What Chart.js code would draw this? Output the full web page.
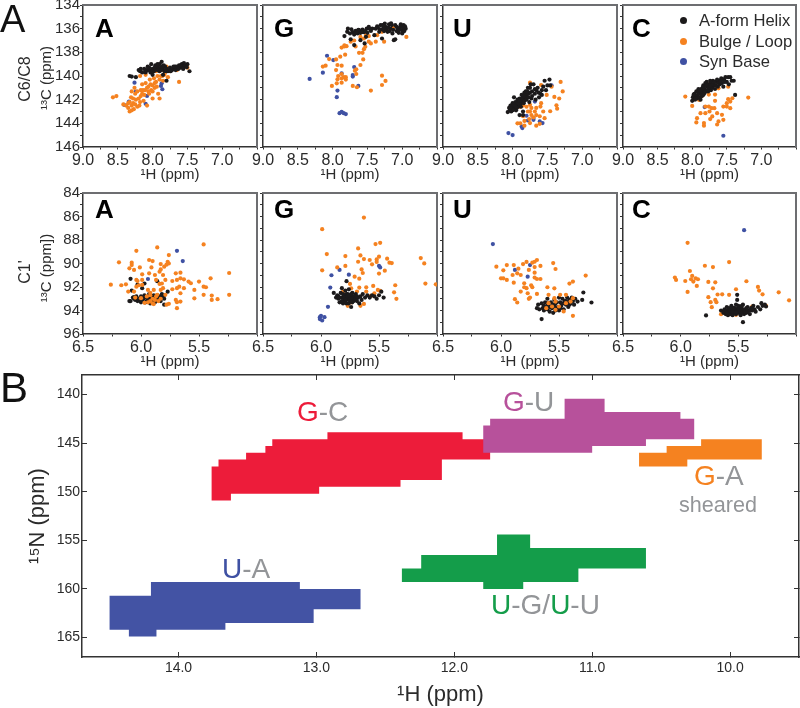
<!DOCTYPE html>
<html>
<head>
<meta charset="utf-8">
<title>RNA chemical shift maps</title>
<script src="https://cdn.jsdelivr.net/npm/chart.js@4"></script>
<style>
html, body { margin: 0; padding: 0; background: #fff; }
#page { position: relative; width: 800px; height: 708px; overflow: hidden; font-family: "Liberation Sans", Arial, sans-serif; }
#page canvas { position: absolute; }
.lbl { position: absolute; line-height: 1; white-space: nowrap; }
.dot { position: absolute; width: 7px; height: 7px; border-radius: 50%; }
</style>
</head>
<body>
<div id="page"></div>
<script>
// C6/C8 panels, [1H, 13C] pairs
const baseA_helix = [[8.33,140],[8.3,140.05],[8.24,140.1],[8.2,139.5],[8.18,139.6],[8.15,139.7],[8.12,139.4],[8.1,139.7],[8.08,139.5],[8.05,139.5],[8.03,139.7],[8.02,139],[8,139.4],[7.98,139.6],[7.96,139.1],[7.95,139.4],[7.92,139.3],[7.9,139.6],[7.9,139],[7.87,138.8],[7.85,139.4],[7.83,139.6],[7.82,139.2],[7.8,139.4],[7.78,139.6],[7.75,139.3],[7.72,139.5],[7.7,139.4],[7.68,139.2],[7.65,139.4],[7.62,139.1],[7.6,139.3],[7.58,139],[7.55,139.2],[7.55,138.9],[7.5,139],[7.47,139.6],[7.8,140.4],[7.85,139.9],[8,139.9],[7.93,139.5],[7.88,139.3],[7.76,139.5],[7.66,139.2],[8.17,139.4],[8.1,139.5],[8.05,139.3],[8,139.6],[7.97,139.3],[7.92,139.5],[7.88,139.5],[7.86,139.2],[7.84,139.1],[7.8,139.6],[7.74,139.6],[7.7,139.2],[7.67,139.5],[7.63,139.4],[7.6,139.1],[7.56,139.4],[7.53,139.1],[7.51,139.25],[8.07,139.2],[7.93,139]];
const baseA_loop = [[8.57,141.8],[8.52,141.7],[8.42,142.4],[8.38,142.5],[8.35,142.7],[8.33,143],[8.33,142.2],[8.31,141.8],[8.3,142.5],[8.28,141.9],[8.28,142.3],[8.27,142.8],[8.25,141.5],[8.24,142],[8.22,141.3],[8.22,142.6],[8.2,141.9],[8.19,142.5],[8.17,141.2],[8.17,141.7],[8.15,140.7],[8.14,141.2],[8.13,142.1],[8.12,141.6],[8.1,140.6],[8.08,142.5],[8.08,141],[8.06,140.9],[8.05,141.5],[8.04,140.3],[8.02,141.2],[8,140.8],[8,141.9],[7.98,140.2],[7.97,141],[7.95,140.5],[7.93,140],[7.92,141.5],[7.9,141.9],[7.88,140],[7.87,139.5],[7.85,140.4],[7.82,139.7],[7.8,139.2],[7.75,139.6],[7.78,140.1],[8.18,140],[8.1,139.9],[7.95,139.6],[7.65,139.5],[7.62,140.5],[7.5,139.3],[7.58,139.2],[8.26,141],[8.3,141.3],[8.35,142.3],[8.3,142.9],[8.25,142.4],[8.18,142.2],[8.15,141.5],[8.11,141.2],[8.06,141.3],[8.03,140.7],[8,141.3],[7.97,140.6],[7.94,140.9],[7.9,140.3],[7.86,140],[7.83,139.9]];
const baseA_syn = [[8.26,140.56],[8.41,142.44],[8.34,142.16],[8.08,141.68],[8.1,142.35],[7.87,140.62],[7.88,140.84],[7.86,141.12],[8.24,141.32]];

const baseG_helix = [[7.83,136.63],[7.79,136.27],[7.75,136.4],[7.71,136.3],[7.69,136.5],[7.67,136.19],[7.64,136.4],[7.62,136.13],[7.6,136.35],[7.57,136.07],[7.55,136.3],[7.51,136],[7.48,135.85],[7.45,136.19],[7.69,137.39],[7.54,137.25],[7.6,136.97],[7.35,135.9],[7.33,136.27],[7.31,135.7],[7.29,136.07],[7.25,135.57],[7.24,135.85],[7.21,136.27],[7.19,135.63],[7.17,136],[7.14,136.4],[7.12,136.97],[7.1,136.9],[7.1,135.7],[7.06,136],[7.02,135.63],[7,136.13],[6.98,135.7],[6.95,136],[7,136.4],[7.05,136.35],[7.29,136.83],[7.4,136.55],[7.43,135.99],[7.52,136.69],[7.74,136.9],[7.78,136],[7.73,136.05],[7.66,136.35],[7.63,136.1],[7.58,136.3],[7.53,136.2],[7.5,136.35],[7.47,136],[7.38,136],[7.36,135.8],[7.32,136.05],[7.28,135.7],[7.26,136.2],[7.23,136.05],[7.2,135.9],[7.18,136.2],[7.15,135.7],[7.13,136.1],[7.08,136.2],[7.08,135.85],[7.04,136.1],[7.03,135.85],[6.99,135.9],[6.97,136.2],[6.96,135.8],[7.16,135.55],[7.27,135.95]];
const baseG_loop = [[8.14,139.2],[8.1,139.13],[8.05,138.57],[7.95,138.6],[7.89,138.37],[7.82,138.2],[7.93,139.07],[7.87,139.13],[7.95,139.5],[7.87,139.83],[7.92,140],[7.93,140.28],[7.87,140.2],[7.84,140.1],[7.81,140.1],[7.81,140.3],[7.87,140.56],[7.94,140.62],[8.01,140.84],[7.71,140.84],[7.65,140.95],[7.45,141.23],[7.29,139.97],[7.24,140.42],[7.29,140.76],[7.68,139.55],[7.66,139.83],[7.66,139.44],[7.6,139.07],[7.56,138.6],[7.62,138.04],[7.57,138.04],[7.55,137.73],[7.53,137.53],[7.87,137.6],[7.83,137.5],[7.8,137.48],[7.83,137.4],[7.74,137.1],[7.69,137],[7.67,137.5],[7.6,136.7],[7.55,136.83],[7.48,137.1],[7.45,137.25],[7.48,136.63],[7.52,136.55],[7.38,137.1],[7.36,136.55],[7.26,137.1],[7.29,136.27],[7.21,136.13],[7.12,135.85],[6.94,136.7]];
const baseG_syn = [[8.08,138.29],[7.99,138.65],[8.14,139.72],[8.33,140.25],[7.69,139.24],[7.71,139.92],[7.71,140.05],[7.63,140.84],[7.87,139.78],[7.93,141.23],[7.94,141.79],[7.9,143.14],[7.87,143.03],[7.84,143.14],[7.81,143.22]];

const baseU_helix = [[8.07,143.05],[8.05,142.7],[8.04,142.9],[8.03,142.5],[8.02,143],[8.01,142.7],[8,142.3],[8,142.9],[7.99,142.5],[7.98,141.8],[7.97,142.7],[7.96,142.2],[7.95,142.9],[7.94,142.4],[7.93,142],[7.92,142.6],[7.91,142.2],[7.9,141.9],[7.9,142.5],[7.89,142],[7.88,142.3],[7.87,141.6],[7.86,142.1],[7.85,141.8],[7.85,143],[7.84,142.3],[7.83,141.4],[7.82,141.9],[7.81,141.3],[7.8,141.7],[7.78,141],[7.77,141.5],[7.76,142.2],[7.75,141.4],[7.74,140.7],[7.72,141.3],[7.7,140.7],[7.68,141.5],[7.66,141.2],[7.64,141],[7.62,141.8],[7.6,141.5],[7.58,141.2],[7.56,140.9],[7.54,140.4],[7.52,141.2],[7.5,140.8],[7.47,140.3],[7.46,140.8],[7.67,142],[7.73,141.9],[7.9,143.3],[7.85,143.3],[8.03,142.75],[7.98,142.4],[7.96,142.55],[7.92,142.3],[7.9,142.1],[7.88,142.6],[7.86,141.9],[7.83,142.1],[7.82,141.5],[7.8,142],[7.79,141.3],[7.77,141.8],[7.75,141],[7.72,141.7],[7.68,141.1],[7.63,141.4],[7.58,141.6],[7.94,142.7],[7.99,142.85],[7.84,141.7]];
const baseU_loop = [[7.31,140.5],[7.28,141.3],[7.4,141.77],[7.33,141.9],[7.37,142.48],[7.36,142.76],[7.46,142.98],[7.75,140.56],[7.59,140.76],[7.44,140.9],[7.51,141.6],[7.59,142.3],[7.56,143],[7.6,142.58],[7.75,142.44],[7.8,142.6],[7.85,142.5],[7.73,142.7],[7.75,143],[7.68,143],[7.66,143.3],[7.73,143.3],[7.78,143],[7.85,143.4],[7.83,143.8],[7.93,144],[7.89,144],[7.83,144.2],[7.75,143.98],[7.66,144.2],[7.61,143.4],[7.61,144.04],[7.54,143.56],[7.66,142.7],[7.89,142.6],[7.7,143.5],[7.76,143.64]];
const baseU_syn = [[8.06,144.82],[8,144.99],[7.87,144.26],[7.86,144.4],[7.8,143.36],[7.78,143.76],[7.7,143.7],[7.7,143.55],[7.61,143.84],[7.57,143.98],[7.44,140.78],[7.68,142.16]];

const baseC_helix = [[8,142.1],[7.99,141.8],[7.97,141.5],[7.96,142],[7.95,141.7],[7.94,141.3],[7.93,141.9],[7.92,141.6],[7.91,141.1],[7.9,141.8],[7.89,141.4],[7.88,142],[7.87,141.1],[7.86,141.7],[7.85,141.3],[7.84,140.8],[7.83,141.5],[7.82,141.1],[7.81,140.6],[7.8,141.3],[7.79,140.5],[7.78,140.9],[7.77,141.3],[7.76,140.7],[7.75,141],[7.74,140.4],[7.73,141.2],[7.72,140.7],[7.71,141],[7.7,140.4],[7.68,140.8],[7.67,141.1],[7.65,140.5],[7.63,140.9],[7.61,140.4],[7.6,140.7],[7.58,140.2],[7.57,140.6],[7.55,140.9],[7.54,140.3],[7.52,140.1],[7.5,140.5],[7.48,140.1],[7.47,140.7],[7.45,140.1],[7.43,140.4],[7.4,140.4],[7.38,141.6],[7.98,141.6],[7.95,141.9],[7.92,141.3],[7.9,141.5],[7.88,141.2],[7.86,141.5],[7.85,141],[7.83,140.9],[7.82,141.4],[7.8,140.8],[7.78,141.2],[7.76,141],[7.74,140.8],[7.73,140.5],[7.7,140.7],[7.68,140.5],[7.66,140.8],[7.64,140.3],[7.62,140.6],[7.59,140.5],[7.56,140.3],[7.53,140.5],[7.9,141.2],[7.84,141.6]];
const baseC_loop = [[8.1,141.74],[7.19,141.82],[8,142.53],[7.76,142.58],[7.72,142.72],[7.68,142.72],[7.75,143],[7.81,143.14],[7.88,143.14],[7.93,143.56],[7.94,143.92],[7.83,143.98],[7.83,144.2],[7.74,143.64],[7.71,143.42],[7.64,143.14],[7.57,143.28],[7.55,143.7],[7.62,143.84],[7.64,144.1],[7.55,142.58],[7.5,142.58],[7.45,142.72],[7.5,142.3],[7.48,141.96],[7.42,141.88],[7.45,142.16],[7.79,140.62],[7.62,141.04],[7.48,140.9],[7.67,141.57],[7.81,142.58],[7.9,142.02],[7.76,141.57],[7.86,141.7],[7.67,142.1]];
const baseC_syn = [[7.55,145.05],[7.82,142.63]];

// C1' panels
const riboA_helix = [[6.09,93.2],[6.07,92.9],[6.05,93.1],[6.04,92.8],[6.03,93.2],[6.02,93],[6,92.8],[6,93.3],[5.98,93],[5.97,92.7],[5.96,93.3],[5.95,92.9],[5.94,93.1],[5.93,92.6],[5.92,93.4],[5.91,92.9],[5.9,93.2],[5.89,92.7],[5.88,93.3],[5.87,93],[5.86,92.7],[5.85,93.1],[5.84,92.8],[5.83,93.2],[5.82,92.6],[5.81,92.9],[5.8,93],[5.8,92.7],[6.09,91.3],[6.03,91.8],[5.99,92.1],[5.97,91.7],[5.86,91.5],[6.08,92.3],[5.77,92.4],[5.8,93.5],[6.1,93.2],[6,93.1],[5.93,93.2],[6.06,93],[6.03,93],[6.01,93.1],[5.99,93.15],[5.97,92.9],[5.95,93.2],[5.93,93],[5.91,93.1],[5.89,93],[5.87,93.2],[5.85,92.9],[5.83,92.85],[6.06,92.85],[5.99,92.9]];
const riboA_loop = [[5.46,88.38],[5.86,88.63],[6.04,88.92],[5.76,89.28],[6.19,89.9],[6.08,89.93],[6.08,90.13],[6.1,90.41],[6.06,90.55],[6.01,90.33],[5.93,89.7],[5.9,89.79],[5.91,90.33],[5.93,90.84],[5.99,90.92],[5.83,90.05],[5.8,90.27],[5.77,89.85],[5.76,90],[5.78,90.1],[5.83,90.5],[5.84,90.7],[5.88,90.98],[5.81,90.98],[5.7,90.84],[5.66,90.78],[5.4,91.26],[5.24,90.81],[5.24,92.67],[5.34,93.04],[5.39,93.1],[5.39,92.73],[5.46,92.67],[5.44,92.02],[5.46,91.97],[5.5,91.54],[5.57,91.68],[5.59,91.54],[5.63,91.35],[5.66,91.26],[5.69,91.4],[5.73,91.49],[5.79,91.4],[5.87,91.4],[5.84,91.74],[5.82,91.7],[5.67,91.97],[5.63,92.1],[5.69,92.1],[5.73,92.19],[5.54,92.25],[5.66,92.53],[5.54,92.96],[5.7,93.1],[5.66,93.24],[5.69,93.29],[5.69,93.8],[5.76,93.43],[5.78,93.5],[6.26,91.8],[6.17,91.85],[6.13,91.77],[6.11,92.39],[6.04,91.97],[6.03,91.49],[5.99,91.4],[6.04,91.4],[6.02,91.85],[5.99,91.82],[6.06,92.39],[5.94,92.25],[5.89,92.25],[5.92,92.5],[5.83,92.25],[5.81,92.1],[5.79,92.67],[5.86,92.67],[5.95,92.8],[5.9,93],[5.92,93.2],[5.88,93.1],[5.87,92.8],[5.94,93.3],[5.9,93.4],[5.85,93.2],[5.83,93],[5.92,92.7],[6,92.95],[6.05,92.9],[5.97,93.35],[5.89,93.45]];
const riboA_syn = [[5.69,88.92],[5.64,89.79],[5.94,91.32]];

const riboG_helix = [[5.89,92.5],[5.87,92.9],[5.86,92.7],[5.85,93],[5.84,93.3],[5.83,92.5],[5.82,92.9],[5.82,92.1],[5.81,93.4],[5.8,92.7],[5.8,93.1],[5.79,92.3],[5.78,92.9],[5.78,93.4],[5.77,92.6],[5.77,93],[5.76,92.2],[5.76,93.4],[5.75,92.7],[5.75,93.1],[5.74,92.9],[5.74,93.7],[5.73,92.5],[5.73,93.3],[5.72,92.8],[5.71,93.1],[5.7,92.6],[5.69,93.2],[5.68,92.9],[5.67,93.4],[5.66,92.8],[5.65,93.1],[5.64,92.6],[5.62,92.9],[5.6,92.7],[5.58,92.9],[5.56,92.7],[5.54,92.8],[5.52,93],[5.5,92.7],[5.48,92.4],[5.46,92.9],[5.78,91.5],[5.85,92.8],[5.82,93.2],[5.8,92.9],[5.79,93.3],[5.78,92.6],[5.77,92.8],[5.76,93.1],[5.75,92.9],[5.74,92.6],[5.73,93],[5.72,93.2],[5.71,92.8],[5.7,93],[5.69,92.8],[5.81,92.6],[5.84,92.9],[5.79,93.1],[5.76,92.7],[5.74,93.2]];
const riboG_loop = [[5.63,86.09],[5.99,87.08],[5.95,89.2],[5.99,90.58],[5.86,90.33],[5.79,90.21],[5.79,89.37],[5.68,88.72],[5.66,89.31],[5.63,89.62],[5.68,89.85],[5.58,89.7],[5.56,90.07],[5.53,88.35],[5.49,88.24],[5.5,89.42],[5.52,89.65],[5.52,89.87],[5.43,89.59],[5.41,89.93],[5.39,89.96],[5.45,90.61],[5.5,90.86],[5.65,90.5],[5.64,90.81],[5.71,91.12],[5.67,91.29],[5.75,91.74],[5.74,92.11],[5.14,89.54],[5.11,89.99],[5.1,91.71],[5.01,91.77],[5.36,91.85],[5.37,92.45],[5.35,93.01],[5.61,92.02],[5.55,91.91],[5.51,92.25],[5.49,92.33],[5.54,92.53],[5.61,92.39],[5.67,92.05],[5.69,92.39],[5.57,92.76],[5.63,93.44],[5.66,93.6],[5.78,92.95],[5.74,93.32],[5.77,93.6],[5.81,92.39]];
const riboG_syn = [[6.01,94.57],[6,94.45],[5.99,94.85],[5.97,94.57],[6.01,94.73],[5.94,93.69],[5.92,92.05],[5.91,91],[5.84,90.55],[5.76,90.95],[5.5,90.21],[5.49,90.33],[5.69,92.93]];

const riboU_helix = [[5.65,94.73],[5.29,92.47],[5.22,93.32],[5.3,93.1],[5.34,93.24],[5.69,93.8],[5.68,93.5],[5.67,93.9],[5.65,93.4],[5.64,93.8],[5.63,94],[5.62,93.3],[5.61,93.7],[5.6,93],[5.6,93.9],[5.59,93.5],[5.58,94.1],[5.57,93.3],[5.56,93.8],[5.55,94.2],[5.54,93.1],[5.54,93.6],[5.53,94],[5.52,93.3],[5.51,93.7],[5.5,92.9],[5.5,94],[5.49,93.3],[5.48,93.6],[5.47,93],[5.46,93.9],[5.45,93.2],[5.44,93.5],[5.43,92.9],[5.42,93.7],[5.41,93.1],[5.4,93.4],[5.39,92.9],[5.38,93.2],[5.37,93.5],[5.36,93],[5.63,93.6],[5.6,93.4],[5.57,93.7],[5.55,93.5],[5.52,93.8],[5.49,93.8],[5.47,93.4],[5.44,93.2],[5.42,93.3],[5.53,93.4],[5.58,93.7],[5.41,93.5]];
const riboU_loop = [[6.04,90.27],[5.98,90.58],[5.95,90.13],[5.89,90.13],[5.85,90.44],[5.81,90.05],[5.78,89.87],[5.73,89.93],[5.71,89.85],[5.69,89.7],[5.66,90.21],[5.71,90.3],[5.55,89.96],[5.53,90.47],[5.27,91.03],[5.38,91.54],[5.41,91.71],[5.54,92.11],[5.6,92.02],[6,91.26],[5.98,91.26],[5.95,91.4],[5.9,90.98],[5.86,90.84],[5.89,91.63],[5.83,90.98],[5.76,90.55],[5.71,90.78],[5.71,91.2],[5.69,91.32],[5.66,91.32],[5.8,91.68],[5.74,91.85],[5.73,92.02],[5.8,92.02],[5.78,92.1],[5.83,92.39],[5.69,92.59],[5.77,92.53],[5.76,93.01],[5.75,92.9],[5.88,93.04],[5.86,93.32],[5.59,92.67],[5.54,92.95],[5.49,92.67],[5.44,92.67],[5.38,92.95],[5.38,94.45],[5.56,93.66],[5.53,93.94],[5.5,93.66],[5.46,94.08],[5.59,93.38],[5.53,93.24],[5.61,93.8],[5.44,93.38],[5.4,93.24]];
const riboU_syn = [[6.07,88.35],[5.88,90.55],[5.75,90.13],[5.77,91.12]];

const riboC_helix = [[5.78,94.42],[5.46,94.99],[5.51,92.67],[5.51,93.1],[5.3,93.38],[5.26,93.66],[5.65,94],[5.63,94.2],[5.62,93.9],[5.61,94.3],[5.6,94],[5.6,93.7],[5.59,94.4],[5.58,94.1],[5.58,93.8],[5.57,94.3],[5.56,93.6],[5.56,94],[5.55,94.4],[5.54,93.8],[5.54,94.2],[5.53,94],[5.52,93.5],[5.52,94.3],[5.51,93.9],[5.5,94.2],[5.5,93.6],[5.49,94],[5.48,94.4],[5.47,93.8],[5.46,94.1],[5.46,93.5],[5.45,94.3],[5.44,93.9],[5.43,94.2],[5.42,93.7],[5.41,94],[5.4,94.3],[5.39,93.8],[5.38,94],[5.37,93.6],[5.36,93.9],[5.35,94.1],[5.33,93.7],[5.31,93.9],[5.29,93.6],[5.27,93.5],[5.62,94.1],[5.59,94.1],[5.57,94],[5.55,94.1],[5.53,93.8],[5.51,94.1],[5.5,93.9],[5.48,94.1],[5.47,94.2],[5.45,94],[5.44,94.1],[5.42,94.1],[5.4,94],[5.38,93.8],[5.55,93.8],[5.5,93.75],[5.47,93.6],[5.43,93.8],[5.6,94.2],[5.52,94.15]];
const riboC_loop = [[5.94,88.24],[6.05,91.2],[6.04,91.4],[5.96,91.49],[5.92,90.64],[5.9,91.06],[5.91,91.34],[5.89,91.54],[5.87,91.26],[5.85,91.34],[5.86,91.91],[5.94,92.42],[5.79,90.19],[5.72,90.3],[5.58,89.88],[5.76,91.57],[5.7,91.6],[5.72,92.11],[5.76,92.87],[5.74,93.29],[5.7,93.1],[5.69,93.29],[5.73,93.72],[5.68,92.64],[5.64,92.62],[5.52,92.19],[5.58,92.67],[5.43,91.51],[5.33,91.99],[5.32,92.3],[5.29,92.62],[5.15,92.45],[5.06,93.13],[5.65,94.31],[5.26,93.6],[5.38,93.66],[5.51,93.94],[5.49,93.8],[5.52,94.37]];
const riboC_syn = [[5.45,87.16]];

// imino regions of panel B, outline corners as [1H, 15N]
const regionGC = [[13.76,150.9],[13.76,147.4],[13.71,147.4],[13.71,146.7],[13.51,146.7],[13.51,146],[13.37,146],[13.37,145.3],[13.32,145.3],[13.32,144.6],[12.92,144.6],[12.92,143.9],[11.94,143.9],[11.94,144.6],[11.74,144.6],[11.74,146.7],[12.09,146.7],[12.09,148.8],[12.39,148.8],[12.39,149.5],[12.98,149.5],[12.98,150.2],[13.62,150.2],[13.62,150.9]];
const regionGU = [[11.79,146],[11.79,143.2],[11.74,143.2],[11.74,142.5],[11.2,142.5],[11.2,140.45],[10.91,140.45],[10.91,141.8],[10.36,141.8],[10.36,142.5],[10.26,142.5],[10.26,144.6],[10.61,144.6],[10.61,145.3],[11,145.3],[11,146]];
const regionGA = [[10.66,147.4],[10.66,146],[10.46,146],[10.46,145.3],[10.21,145.3],[10.21,144.6],[9.77,144.6],[9.77,146.7],[10.31,146.7],[10.31,147.4]];
const regionUG = [[12.38,159.3],[12.38,157.9],[12.24,157.9],[12.24,156.5],[11.69,156.5],[11.69,154.4],[11.45,154.4],[11.45,155.8],[10.61,155.8],[10.61,157.9],[11.1,157.9],[11.1,159.3],[11.5,159.3],[11.5,160],[11.79,160],[11.79,159.3]];
const regionUA = [[14.5,164.2],[14.5,160.7],[14.2,160.7],[14.2,159.3],[13.12,159.3],[13.12,160],[12.68,160],[12.68,162.1],[13.02,162.1],[13.02,163.5],[13.66,163.5],[13.66,164.2],[14.16,164.2],[14.16,164.9],[14.36,164.9],[14.36,164.2]];

const legendLabels = ['A-form Helix', 'Bulge / Loop', 'Syn Base'];

const BLACK = '#1c1a1b', ORANGE = '#f58220', BLUE = '#3f51a3';
const RED = '#ed1c3a', PURPLE = '#b7519b', GREEN = '#149d4a', GREY = '#939598';
const TEXT = '#2b2b2b', FONT = '"Liberation Sans", Arial, sans-serif';

const page = document.getElementById('page');

function addCanvas(left, top, width, height) {
    const c = document.createElement('canvas');
    c.width = width;
    c.height = height;
    c.style.left = left + 'px';
    c.style.top = top + 'px';
    page.appendChild(c);
    return c;
}

// keep the plot box where it was measured, tick labels may hang over the edge
function fixedWidth(w) {
    return scale => { scale.width = w; scale.paddingTop = 0; scale.paddingBottom = 0; };
}
function fixedHeight(h) {
    return scale => { scale.height = h; scale.paddingLeft = 0; scale.paddingRight = 0; };
}

// one small scatter panel, plot box at (left, top) sized 175 wide
function drawPanel(p) {
    const mL = p.first ? 83 : 14, mT = p.top < 100 ? 5 : 8, mB = 37, mR = p.left > 600 ? 2 : 3;
    const c = addCanvas(p.left - mL, p.top - mT, 175 + mL + mR, p.height + mT + mB);
    const helix = { data: p.helix, backgroundColor: BLACK };
    const loop = { data: p.loop, backgroundColor: ORANGE };
    const syn = { data: p.syn, backgroundColor: BLUE };
    new Chart(c, {
        type: 'scatter',
        data: { datasets: p.loopOnTop ? [loop, helix, syn] : [helix, loop, syn] },
        options: {
            responsive: false,
            animation: false,
            layout: { padding: 0 },
            elements: { point: { radius: 2.1, borderWidth: 0 } },
            plugins: { legend: { display: false }, tooltip: { enabled: false } },
            scales: {
                x: {
                    reverse: true, min: p.xMin, max: p.xMax,
                    afterFit: fixedHeight(mB),
                    border: { color: '#333', width: 1.5 },
                    grid: { drawOnChartArea: false, tickLength: 2.5, color: '#333' },
                    title: { display: true, text: '¹H (ppm)', color: TEXT, font: { family: FONT, size: 15 }, padding: { top: 0, bottom: 0 } },
                    ticks: {
                        stepSize: 0.25, autoSkip: false, maxRotation: 0, includeBounds: false, padding: 1,
                        color: TEXT, font: { family: FONT, size: 16 },
                        callback: v => (v * 2 % 1 === 0 && p.xLabels.includes(v)) ? v.toFixed(1) : ''
                    }
                },
                y: {
                    reverse: true, min: p.yMin, max: p.yMax,
                    afterFit: fixedWidth(mL),
                    border: { color: '#333', width: 1.5 },
                    grid: { drawOnChartArea: false, tickLength: 3, color: '#333' },
                    ticks: {
                        display: !!p.first, stepSize: 1, autoSkip: false, padding: 0,
                        color: TEXT, font: { family: FONT, size: 15 },
                        callback: v => v % 2 === 0 ? String(v) : ''
                    }
                },
                x2: {
                    position: 'top', reverse: true, min: p.xMin, max: p.xMax, afterFit: fixedHeight(mT),
                    border: { color: '#6d6e71', width: 2 }, grid: { display: false }, ticks: { display: false }
                },
                y2: {
                    position: 'right', reverse: true, min: p.yMin, max: p.yMax, afterFit: fixedWidth(mR),
                    border: { color: '#6d6e71', width: 2 }, grid: { display: false }, ticks: { display: false }
                }
            }
        }
    });
}

const c6Labels = [9, 8.5, 8, 7.5, 7];
const c1Labels = [6.5, 6, 5.5];
const c6 = { top: 5, height: 142, xMin: 6.5, xMax: 9, yMin: 134, yMax: 146, xLabels: c6Labels };
const c1 = { top: 193, height: 141, xMin: 5, xMax: 6.5, yMin: 84, yMax: 96, xLabels: c1Labels };

drawPanel({ ...c6, left: 83, first: true, helix: baseA_helix, loop: baseA_loop, syn: baseA_syn });
drawPanel({ ...c6, left: 263, helix: baseG_helix, loop: baseG_loop, syn: baseG_syn });
drawPanel({ ...c6, left: 443, helix: baseU_helix, loop: baseU_loop, syn: baseU_syn });
drawPanel({ ...c6, left: 623, helix: baseC_helix, loop: baseC_loop, syn: baseC_syn });
drawPanel({ ...c1, left: 83, first: true, loopOnTop: true, helix: riboA_helix, loop: riboA_loop, syn: riboA_syn });
drawPanel({ ...c1, left: 263, helix: riboG_helix, loop: riboG_loop, syn: riboG_syn });
drawPanel({ ...c1, left: 443, loopOnTop: true, helix: riboU_helix, loop: riboU_loop, syn: riboU_syn });
drawPanel({ ...c1, left: 623, helix: riboC_helix, loop: riboC_loop, syn: riboC_syn });

// panel B, the first dataset ends up on top
function region(data, color) {
    return { data: data, showLine: true, fill: 'shape', backgroundColor: color, borderWidth: 0, pointRadius: 0 };
}

new Chart(addCanvas(0, 370, 800, 338), {
    type: 'scatter',
    data: {
        datasets: [
            region(regionGU, PURPLE),
            region(regionGC, RED),
            region(regionGA, ORANGE),
            region(regionUG, GREEN),
            region(regionUA, '#4353a4')
        ]
    },
    options: {
        responsive: false,
        animation: false,
        layout: { padding: 0 },
        plugins: { legend: { display: false }, tooltip: { enabled: false } },
        scales: {
            x: {
                reverse: true, min: 9.5, max: 14.7,
                afterFit: fixedHeight(51),
                border: { color: '#333', width: 1.5 },
                grid: { drawOnChartArea: false, tickLength: -5, color: '#333' },
                title: { display: true, text: '¹H (ppm)', color: TEXT, font: { family: FONT, size: 22 }, padding: { top: 0, bottom: 0 } },
                ticks: {
                    stepSize: 1, includeBounds: false, maxRotation: 0, padding: 8,
                    color: TEXT, font: { family: FONT, size: 14 }, callback: v => v.toFixed(1)
                }
            },
            y: {
                reverse: true, min: 138, max: 167,
                afterFit: fixedWidth(82),
                border: { color: '#333', width: 1.5 },
                grid: { drawOnChartArea: false, tickLength: -5, color: '#333' },
                title: { display: true, text: '¹⁵N (ppm)', color: TEXT, font: { family: FONT, size: 22 }, padding: { top: 25, bottom: 0 } },
                ticks: {
                    stepSize: 5, includeBounds: false, padding: 7,
                    color: TEXT, font: { family: FONT, size: 14 }
                }
            },
            x2: {
                position: 'top', reverse: true, min: 9.5, max: 14.7, afterFit: fixedHeight(5),
                border: { color: '#333', width: 1.5 },
                grid: { drawOnChartArea: false, tickLength: -5, color: '#333' },
                ticks: { stepSize: 1, includeBounds: false, display: false }
            },
            y2: {
                position: 'right', reverse: true, min: 138, max: 167, afterFit: fixedWidth(1),
                border: { color: '#333', width: 1.5 },
                grid: { drawOnChartArea: false, tickLength: -5, color: '#333' },
                ticks: { stepSize: 5, includeBounds: false, display: false }
            }
        }
    }
});

// letters, region names and the key
function addText(html, left, baseline, size, bold, color) {
    const s = document.createElement('span');
    s.className = 'lbl';
    s.innerHTML = html;
    s.style.left = left + 'px';
    s.style.top = (baseline - 0.8465 * size) + 'px';
    s.style.fontSize = size + 'px';
    if (bold) s.style.fontWeight = 'bold';
    s.style.color = color || TEXT;
    page.appendChild(s);
}

// y titles of the small panels have two sizes, so they sit outside the scales
function addSideText(text, cx, cy, size) {
    const s = document.createElement('span');
    s.className = 'lbl';
    s.textContent = text;
    s.style.left = cx + 'px';
    s.style.top = cy + 'px';
    s.style.fontSize = size + 'px';
    s.style.color = TEXT;
    s.style.transform = 'translate(-50%, -50%) rotate(-90deg)';
    page.appendChild(s);
}

function pair(a, colorA, rest) {
    return `<span style="color:${colorA}">${a}</span><span style="color:${GREY}">${rest}</span>`;
}

addText('A', 0, 32, 38, false, '#111');
addText('B', 0, 403, 42, false, '#111');

addSideText('C6/C8', 25, 79, 16);
addSideText('¹³C (ppm)', 45, 78, 15);
addSideText("C1'", 25, 272, 16);
addSideText('¹³C (ppm])', 45, 268, 15);

[['A', 95], ['G', 274], ['U', 453], ['C', 632]].forEach(([t, x]) => {
    addText(t, x, 37, 26, true, '#000');
    addText(t, x, 218, 26, true, '#000');
});

addText(pair('G', RED, '-C'), 297, 422, 28);
addText(pair('U', BLUE, '-A'), 222, 579, 28);
addText(pair('G', PURPLE, '-U'), 503, 412, 28);
addText(pair('G', ORANGE, '-A'), 694, 486, 28);
addText('sheared', 679, 512, 21.6, false, GREY);
addText(pair('U', GREEN, '-G/') + pair('U', GREEN, '-U'), 491, 615, 28);

[BLACK, ORANGE, BLUE].forEach((color, i) => {
    const d = document.createElement('span');
    d.className = 'dot';
    d.style.left = '680px';
    d.style.top = (17 + i * 20.7) + 'px';
    d.style.background = color;
    page.appendChild(d);
    addText(legendLabels[i], 699, 27 + i * 20.7, 16.6);
});
</script>
</body>
</html>
